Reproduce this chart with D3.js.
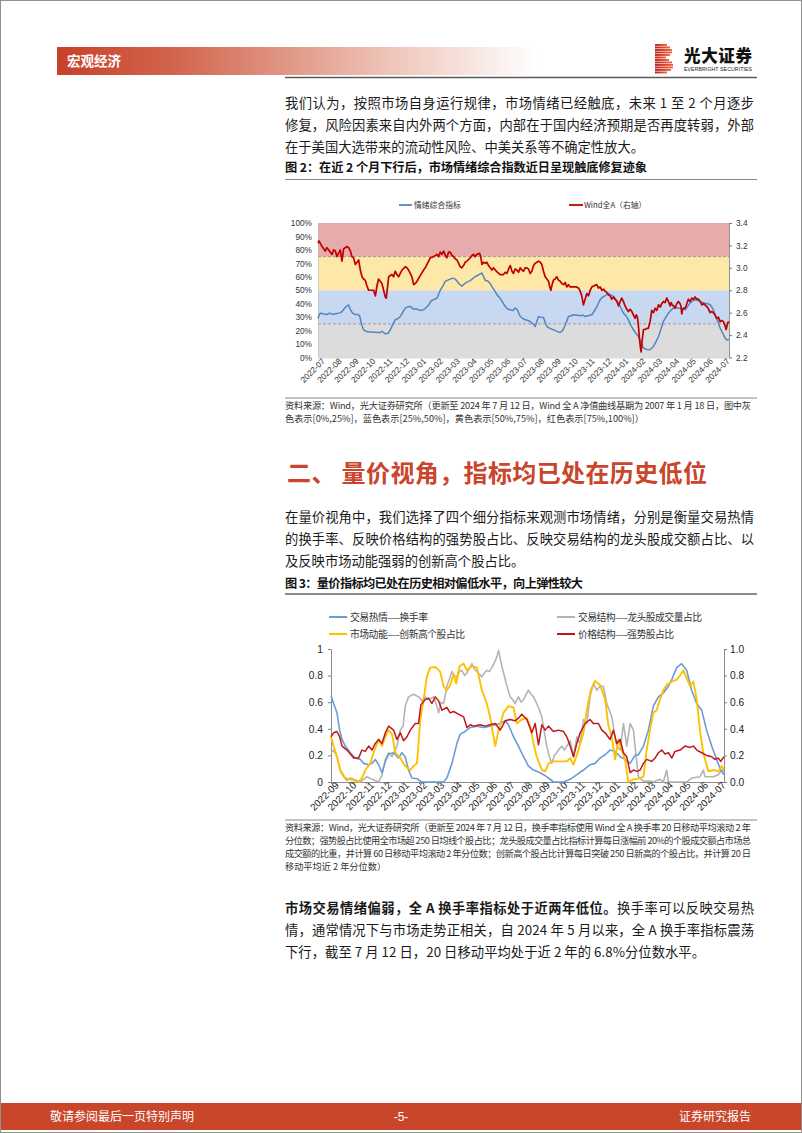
<!DOCTYPE html>
<html><head><meta charset="utf-8">
<script src="https://cdn.jsdelivr.net/npm/d3@7"></script>
<style>
body{margin:0;background:#fff;}
svg{display:block;}
</style>
</head><body>
<svg id="page" width="802" height="1133"></svg>
<script>
// ---------------- DATA ----------------
const chart1Months = ["2022-07","2022-08","2022-09","2022-10","2022-11","2022-12","2023-01","2023-02","2023-03","2023-04","2023-05","2023-06","2023-07","2023-08","2023-09","2023-10","2023-11","2023-12","2024-01","2024-02","2024-03","2024-04","2024-05","2024-06","2024-07"];
const chart1LeftTicks = [0,10,20,30,40,50,60,70,80,90,100];
const chart1RightTicks = [2.2,2.4,2.6,2.8,3.0,3.2,3.4];
const bandEdges = [0,25,50,75,100];
const dashedLevels = [25,75];
// [month index since 2022-07, value %]
const sentimentIndex = [[0,29],[0.05,31],[0.14,33],[0.3,32.5],[0.53,32],[0.7,33],[0.85,32],[1.03,32.5],[1.25,33],[1.42,34],[1.6,37],[1.72,38.5],[1.82,39],[1.92,35.5],[2.05,33],[2.21,32],[2.35,32],[2.47,31],[2.6,24],[2.71,20.5],[2.85,19.5],[3.0,19],[3.25,19],[3.5,18.6],[3.69,18.6],[3.8,19.5],[3.99,17.6],[4.15,18],[4.29,20.6],[4.45,25],[4.58,28],[4.75,29],[4.88,30.5],[5.0,33],[5.17,36.7],[5.3,37.5],[5.47,38],[5.65,36],[5.87,36],[6.05,35],[6.26,35.5],[6.4,37],[6.56,39],[6.7,42],[6.85,43],[7.05,44],[7.25,50],[7.4,53],[7.54,56.6],[7.7,57.5],[7.84,58.3],[8.0,59],[8.14,58.3],[8.35,55],[8.53,53],[8.7,55],[8.83,56],[9.0,57],[9.12,58],[9.3,60],[9.42,60.8],[9.6,62],[9.72,62.8],[9.82,60],[9.92,57.3],[10.05,57],[10.21,55],[10.35,52],[10.51,49],[10.65,46],[10.8,44],[10.95,41],[11.1,38],[11.25,36],[11.4,35.5],[11.55,35],[11.69,36.7],[11.8,36],[11.99,30.5],[12.15,29],[12.29,28],[12.45,27.5],[12.58,26.8],[12.75,25],[12.88,23],[12.98,27],[13.08,30.5],[13.2,30],[13.37,29.8],[13.47,26],[13.57,23],[13.7,22],[13.87,21],[14.0,20.5],[14.16,19.4],[14.36,18.6],[14.5,20],[14.66,24],[14.85,30.5],[15.0,31],[15.15,31.8],[15.35,31.5],[15.54,31],[15.7,31.5],[15.84,30.5],[16.0,31],[16.24,31.8],[16.43,35.5],[16.58,39],[16.73,43],[16.88,45],[17.03,46],[17.22,47.4],[17.35,46.5],[17.52,45.4],[17.67,43],[17.82,40.4],[17.95,37],[18.11,33],[18.26,31],[18.41,28],[18.55,24],[18.7,20.6],[18.85,18],[19.0,15.6],[19.15,11],[19.3,7],[19.5,6],[19.69,5.7],[19.89,8.2],[20.05,12],[20.19,15.6],[20.33,21],[20.48,26.8],[20.63,30],[20.78,33],[20.92,35],[21.07,36.7],[21.27,37],[21.47,36.7],[21.62,36],[21.77,35.5],[21.92,38],[22.06,40.4],[22.2,42],[22.36,43],[22.5,42.5],[22.65,41.7],[22.8,41],[22.95,40.4],[23.1,40],[23.25,39.2],[23.35,37.5],[23.44,35.5],[23.6,30],[23.74,25.6],[23.84,22],[23.94,19.4],[24.04,17],[24.14,14.4],[24.25,13],[24.37,13.5]];
const windAllA = [[0,3.22],[0.06,3.24],[0.24,3.19],[0.43,3.15],[0.53,3.18],[0.63,3.16],[0.83,3.12],[0.93,3.16],[1.03,3.15],[1.12,3.1],[1.22,3.13],[1.32,3.16],[1.42,3.06],[1.52,3.17],[1.72,3.19],[1.82,3.18],[1.92,3.15],[2.01,3.1],[2.11,3.09],[2.21,3.03],[2.31,3.05],[2.41,3.07],[2.51,2.98],[2.61,2.92],[2.7,2.9],[2.8,2.89],[2.9,2.84],[3.0,2.8],[3.15,2.8],[3.3,2.8],[3.4,2.75],[3.5,2.84],[3.59,2.9],[3.69,2.88],[3.79,2.86],[3.89,2.8],[3.99,2.74],[4.05,2.73],[4.19,2.92],[4.38,2.94],[4.48,2.92],[4.58,2.97],[4.68,2.94],[4.78,2.92],[4.88,2.95],[4.98,2.98],[5.17,3.01],[5.27,3.0],[5.37,2.98],[5.47,2.95],[5.57,2.92],[5.67,2.85],[5.77,2.86],[5.87,2.88],[6.06,2.93],[6.26,2.98],[6.36,3.0],[6.46,3.03],[6.56,3.06],[6.66,3.09],[6.85,3.1],[7.05,3.12],[7.15,3.1],[7.25,3.14],[7.35,3.12],[7.45,3.15],[7.55,3.11],[7.64,3.09],[7.74,3.14],[7.84,3.14],[7.94,3.11],[8.04,3.1],[8.14,3.08],[8.24,3.07],[8.34,3.04],[8.43,3.01],[8.53,3.0],[8.63,3.02],[8.73,3.05],[8.83,3.06],[9.03,3.09],[9.13,3.11],[9.22,3.12],[9.32,3.1],[9.42,3.12],[9.58,3.13],[9.65,3.1],[9.72,3.03],[9.82,3.05],[9.92,3.04],[10.01,3.05],[10.11,3.02],[10.21,3.0],[10.31,2.98],[10.41,3.0],[10.51,2.98],[10.65,2.96],[10.8,2.94],[11.0,2.94],[11.1,2.96],[11.2,2.95],[11.3,2.99],[11.4,3.02],[11.5,2.97],[11.59,2.95],[11.69,2.99],[11.79,2.98],[11.89,2.96],[11.99,3.0],[12.09,2.98],[12.19,2.97],[12.28,3.0],[12.38,3.0],[12.48,2.99],[12.58,2.95],[12.68,2.97],[12.78,3.02],[12.88,3.04],[12.98,3.05],[13.08,3.06],[13.18,3.05],[13.27,3.03],[13.37,2.97],[13.47,2.92],[13.57,2.9],[13.67,2.88],[13.74,2.83],[13.81,2.8],[13.88,2.85],[13.96,2.89],[14.06,2.9],[14.16,2.92],[14.26,2.89],[14.36,2.88],[14.46,2.86],[14.56,2.85],[14.66,2.87],[14.75,2.83],[14.85,2.85],[14.95,2.83],[15.15,2.83],[15.3,2.83],[15.45,2.82],[15.55,2.79],[15.64,2.75],[15.7,2.7],[15.74,2.67],[15.84,2.72],[15.94,2.77],[16.04,2.75],[16.14,2.8],[16.24,2.83],[16.38,2.84],[16.53,2.85],[16.63,2.82],[16.73,2.83],[16.83,2.8],[16.93,2.81],[17.03,2.79],[17.13,2.78],[17.22,2.76],[17.32,2.75],[17.42,2.72],[17.52,2.74],[17.62,2.72],[17.72,2.7],[17.82,2.66],[17.92,2.7],[18.01,2.73],[18.11,2.7],[18.21,2.66],[18.31,2.63],[18.41,2.61],[18.51,2.63],[18.61,2.61],[18.7,2.58],[18.8,2.55],[18.87,2.58],[18.94,2.56],[19.0,2.48],[19.06,2.37],[19.11,2.3],[19.16,2.25],[19.22,2.35],[19.3,2.45],[19.4,2.45],[19.49,2.46],[19.59,2.46],[19.69,2.52],[19.74,2.57],[19.79,2.62],[19.89,2.6],[19.99,2.64],[20.09,2.62],[20.19,2.67],[20.29,2.65],[20.38,2.68],[20.48,2.7],[20.58,2.69],[20.68,2.73],[20.78,2.7],[20.88,2.66],[20.94,2.69],[21.0,2.67],[21.09,2.66],[21.17,2.64],[21.27,2.68],[21.37,2.7],[21.47,2.68],[21.52,2.66],[21.57,2.59],[21.62,2.63],[21.67,2.64],[21.77,2.64],[21.87,2.68],[21.96,2.72],[22.06,2.7],[22.16,2.73],[22.26,2.72],[22.36,2.74],[22.46,2.72],[22.56,2.72],[22.66,2.7],[22.76,2.67],[22.86,2.68],[23.01,2.66],[23.13,2.64],[23.25,2.6],[23.35,2.61],[23.44,2.6],[23.54,2.58],[23.64,2.55],[23.74,2.56],[23.84,2.52],[23.94,2.53],[24.04,2.52],[24.12,2.49],[24.2,2.45],[24.29,2.51],[24.37,2.52]];

const chart2Months = ["2022-09","2022-10","2022-11","2022-12","2023-01","2023-02","2023-03","2023-04","2023-05","2023-06","2023-07","2023-08","2023-09","2023-10","2023-11","2023-12","2024-01","2024-02","2024-03","2024-04","2024-05","2024-06","2024-07"];
const chart2LeftTicks = ["0","0.2","0.4","0.6","0.8","1"];
const chart2RightTicks = ["0.0","0.2","0.4","0.6","0.8","1.0"];
// [month index since 2022-09, value]
const turnover = [[0,0.65],[0.15,0.59],[0.34,0.52],[0.49,0.39],[0.63,0.32],[0.81,0.27],[1.1,0.22],[1.38,0.18],[1.67,0.17],[1.86,0.14],[2.14,0.13],[2.33,0.14],[2.52,0.17],[2.71,0.13],[2.9,0.07],[3.09,0.155],[3.28,0.21],[3.56,0.22],[3.84,0.18],[4.03,0.22],[4.22,0.19],[4.41,0.09],[4.6,0.03],[4.89,0.025],[5.17,0],[6.4,0],[6.59,0.03],[6.88,0.14],[7.16,0.29],[7.35,0.36],[7.63,0.38],[7.92,0.41],[8.3,0.42],[8.67,0.41],[9.05,0.42],[9.34,0.43],[9.62,0.44],[9.91,0.46],[10.09,0.43],[10.38,0.34],[10.66,0.27],[10.95,0.19],[11.23,0.12],[11.52,0.09],[11.89,0.07],[12.27,0.04],[12.65,0],[13.22,0],[13.6,0.02],[13.98,0.055],[14.36,0.09],[14.73,0.13],[15.02,0.14],[15.3,0.18],[15.59,0.205],[15.87,0.24],[16.16,0.23],[16.44,0.19],[16.72,0.17],[17.01,0.14],[17.29,0.2],[17.48,0.205],[17.77,0.27],[18.05,0.39],[18.33,0.57],[18.62,0.64],[18.9,0.67],[19.19,0.72],[19.38,0.77],[19.66,0.86],[19.94,0.89],[20.23,0.84],[20.51,0.69],[20.8,0.59],[21.08,0.54],[21.36,0.39],[21.65,0.27],[21.93,0.17],[22.16,0.09],[22.35,0.055]];
const leaderShare = [[0,0.22],[0.15,0.24],[0.34,0.19],[0.53,0.08],[0.72,0.04],[0.91,0.01],[1.1,0.03],[1.29,0.02],[1.67,0],[2.05,0.04],[2.33,0.02],[2.71,0],[2.9,0.05],[3.09,0.17],[3.28,0.22],[3.47,0.19],[3.75,0.27],[3.94,0.39],[4.1,0.42],[4.22,0.57],[4.41,0.64],[4.7,0.66],[4.98,0.64],[5.17,0.61],[5.36,0.64],[5.55,0.62],[5.83,0.64],[6.0,0.58],[6.12,0.52],[6.25,0.6],[6.4,0.59],[6.59,0.72],[6.75,0.78],[6.88,0.83],[7.02,0.8],[7.16,0.79],[7.3,0.83],[7.44,0.84],[7.6,0.8],[7.73,0.82],[8.01,0.89],[8.15,0.85],[8.3,0.83],[8.45,0.81],[8.58,0.79],[8.72,0.82],[8.86,0.84],[9.0,0.83],[9.15,0.86],[9.34,0.91],[9.45,0.95],[9.53,0.99],[9.62,0.93],[9.72,0.87],[9.91,0.77],[10.05,0.7],[10.19,0.64],[10.33,0.62],[10.47,0.59],[10.66,0.64],[10.8,0.6],[10.95,0.62],[11.1,0.66],[11.23,0.69],[11.38,0.66],[11.52,0.64],[11.66,0.6],[11.8,0.56],[11.99,0.49],[12.1,0.4],[12.27,0.27],[12.4,0.2],[12.56,0.14],[12.7,0.2],[12.84,0.22],[12.98,0.25],[13.13,0.27],[13.27,0.24],[13.41,0.27],[13.6,0.31],[13.79,0.19],[13.98,0.34],[14.17,0.29],[14.36,0.47],[14.55,0.44],[14.73,0.64],[14.92,0.74],[15.11,0.69],[15.3,0.72],[15.49,0.72],[15.68,0.59],[15.97,0.49],[16.1,0.38],[16.25,0.27],[16.44,0.24],[16.63,0.44],[16.82,0.27],[17.01,0.44],[17.2,0.39],[17.29,0.27],[17.48,0.04],[17.77,0.005],[18.05,0.01],[18.33,0],[18.71,0.02],[18.9,0],[19.09,0.09],[19.19,0],[20.23,0],[20.51,0.03],[20.98,0.04],[21.17,0.09],[21.27,0.04],[21.74,0.04],[22.03,0.055],[22.22,0.09],[22.35,0.08]];
const newHighShare = [[0,0.34],[0.15,0.27],[0.34,0.19],[0.53,0.09],[0.81,0.03],[1.1,0.02],[1.38,0.01],[1.57,0],[1.76,0.03],[1.95,0.09],[2.23,0.14],[2.42,0.22],[2.71,0.32],[2.9,0.27],[3.09,0.34],[3.28,0.39],[3.47,0.36],[3.66,0.22],[3.94,0.18],[4.22,0.12],[4.51,0.09],[4.7,0.12],[4.89,0.14],[5.08,0.47],[5.27,0.62],[5.45,0.79],[5.64,0.86],[5.93,0.865],[6.21,0.83],[6.4,0.72],[6.59,0.69],[6.78,0.73],[6.97,0.81],[7.12,0.74],[7.31,0.87],[7.54,0.89],[7.73,0.84],[8.01,0.87],[8.3,0.86],[8.58,0.69],[8.86,0.59],[9.05,0.49],[9.24,0.34],[9.34,0.27],[9.53,0.39],[9.81,0.52],[10.09,0.57],[10.38,0.56],[10.57,0.44],[10.85,0.47],[11.14,0.48],[11.33,0.42],[11.52,0.29],[11.7,0.19],[11.99,0.09],[12.18,0.08],[12.37,0.14],[12.65,0.155],[13.03,0.155],[13.41,0.155],[13.6,0.18],[13.79,0.13],[14.07,0.24],[14.36,0.37],[14.55,0.54],[14.77,0.69],[15.02,0.76],[15.3,0.73],[15.59,0.62],[15.78,0.42],[15.97,0.34],[16.16,0.17],[16.34,0.32],[16.53,0.24],[16.72,0.17],[16.91,0],[17.2,0.02],[17.48,0.025],[17.77,0.04],[17.95,0.24],[18.14,0.39],[18.33,0.52],[18.52,0.54],[18.71,0.62],[18.9,0.69],[19.09,0.73],[19.38,0.755],[19.66,0.77],[19.85,0.8],[20.04,0.84],[20.23,0.78],[20.42,0.72],[20.61,0.755],[20.8,0.62],[20.98,0.39],[21.17,0.22],[21.46,0.08],[21.74,0.09],[22.03,0.08],[22.22,0.12],[22.35,0.09]];
const strongShare = [[0,0.34],[0.15,0.37],[0.34,0.38],[0.49,0.34],[0.63,0.27],[0.91,0.24],[1.1,0.21],[1.29,0.18],[1.57,0.18],[1.76,0.24],[1.95,0.23],[2.14,0.27],[2.33,0.24],[2.52,0.29],[2.71,0.32],[2.9,0.29],[3.09,0.37],[3.28,0.42],[3.56,0.39],[3.75,0.32],[3.94,0.37],[4.13,0.31],[4.32,0.34],[4.51,0.39],[4.79,0.44],[4.98,0.44],[5.11,0.58],[5.36,0.62],[5.55,0.63],[5.74,0.59],[5.93,0.64],[6.12,0.61],[6.31,0.54],[6.59,0.56],[6.78,0.52],[6.97,0.53],[7.25,0.51],[7.54,0.49],[7.73,0.41],[7.92,0.43],[8.11,0.42],[8.48,0.43],[8.77,0.42],[9.05,0.43],[9.34,0.44],[9.62,0.39],[9.91,0.46],[10.19,0.47],[10.47,0.46],[10.66,0.48],[10.85,0.51],[11.14,0.47],[11.42,0.37],[11.61,0.44],[11.8,0.28],[11.99,0.43],[12.18,0.39],[12.37,0.42],[12.65,0.38],[12.94,0.39],[13.22,0.38],[13.41,0.34],[13.6,0.27],[13.79,0.19],[13.98,0.29],[14.17,0.37],[14.45,0.44],[14.73,0.47],[14.92,0.44],[15.21,0.44],[15.4,0.39],[15.59,0.37],[15.87,0.32],[16.06,0.39],[16.25,0.29],[16.44,0.32],[16.63,0.22],[16.82,0.19],[17.01,0.07],[17.2,0.09],[17.39,0.08],[17.58,0.09],[17.77,0.14],[17.95,0.17],[18.24,0.155],[18.43,0.18],[18.62,0.22],[18.81,0.24],[19.0,0.21],[19.19,0.22],[19.38,0.18],[19.56,0.23],[19.85,0.24],[20.13,0.27],[20.42,0.26],[20.61,0.27],[20.8,0.24],[21.08,0.22],[21.36,0.2],[21.65,0.19],[21.84,0.17],[22.03,0.18],[22.16,0.155],[22.35,0.19]];

// ---------------- DRAWING ----------------
const CJK = '"Noto Sans CJK SC","Noto Sans",sans-serif';
const NUM = '"Liberation Sans",Arial,sans-serif';
const svg = d3.select("#page");
const defs = svg.append("defs");

function addText(x, y, str, o = {}) {
  const t = svg.append("text").attr("x", x).attr("y", y)
    .attr("font-family", o.family || CJK)
    .attr("font-size", o.size || 13.3)
    .attr("font-weight", o.weight || 400)
    .attr("fill", o.fill || "#1a1a1a")
    .attr("text-anchor", o.anchor || "start")
    .text(str);
  if (o.len) t.attr("textLength", o.len).attr("lengthAdjust", "spacing");
  return t;
}

// page frame
svg.append("rect").attr("x",0.5).attr("y",0.5).attr("width",801).attr("height",1132)
  .attr("fill","#fff").attr("stroke","#8f8f8f");

// header
const hg = defs.append("linearGradient").attr("id","hdr").attr("x1","0").attr("x2","1");
hg.append("stop").attr("offset","0").attr("stop-color","#c8402a");
hg.append("stop").attr("offset","0.25").attr("stop-color","#d2664f");
hg.append("stop").attr("offset","0.7").attr("stop-color","#efc6bb");
hg.append("stop").attr("offset","1").attr("stop-color","#ffffff");
svg.append("rect").attr("x",57).attr("y",47).attr("width",480).attr("height",28).attr("fill","url(#hdr)");
addText(67, 66, "宏观经济", {size:13.5, weight:700, fill:"#fff"});
svg.append("line").attr("x1",285).attr("x2",757).attr("y1",77.5).attr("y2",77.5).attr("stroke","#5a5a5a").attr("stroke-width",1.6);

// logo
const lg = defs.append("linearGradient").attr("id","logo").attr("x1","0").attr("x2","1");
lg.append("stop").attr("offset","0").attr("stop-color","#b8201c");
lg.append("stop").attr("offset","1").attr("stop-color","#f0683f");
const logoW = [12,15,17,17,15,11,14,17,18,18,16,12];
logoW.forEach((w,i) => {
  svg.append("rect").attr("x",655).attr("y",44 + i*2.5).attr("width",w).attr("height",1.9).attr("fill","url(#logo)");
});
addText(684, 62, "光大证券", {size:16.5, weight:900, fill:"#111", len:68});
addText(684, 70.5, "EVERBRIGHT SECURITIES", {size:5.2, family:NUM, fill:"#222", len:68});

// paragraph 1
const P = {size:13.3, fill:"#1a1a1a"};
const JW = 469;
addText(285, 108, "我们认为，按照市场自身运行规律，市场情绪已经触底，未来 1 至 2 个月逐步", {...P, len:JW});
addText(285, 130, "修复，风险因素来自内外两个方面，内部在于国内经济预期是否再度转弱，外部", {...P, len:JW});
addText(285, 152, "在于美国大选带来的流动性风险、中美关系等不确定性放大。", P);

// caption 2
addText(285, 172, "图 2：在近 2 个月下行后，市场情绪综合指数近日呈现触底修复迹象", {size:12.2, weight:700, fill:"#111", len:362});
svg.append("line").attr("x1",285).attr("x2",757).attr("y1",179.5).attr("y2",179.5).attr("stroke","#888").attr("stroke-width",1.2);

// ---------- chart 1 ----------
const c1 = {l:318, r:729, t:223, b:357.5};
const x1 = d3.scaleLinear().domain([0, 24.37]).range([c1.l, c1.r]);
const yL = d3.scaleLinear().domain([0,100]).range([c1.b, c1.t]);
const yR = d3.scaleLinear().domain([2.2,3.4]).range([c1.b, c1.t]);
const bandColors = ["#dcdcdc","#c7d8f0","#fde8a8","#e8abab"];
const g1 = svg.append("g");
d3.pairs(bandEdges).forEach(([a,b],i) => {
  g1.append("rect").attr("x",c1.l).attr("width",c1.r-c1.l)
    .attr("y",yL(b)).attr("height",yL(a)-yL(b)).attr("fill",bandColors[i]);
});
dashedLevels.forEach(v => {
  g1.append("line").attr("x1",c1.l).attr("x2",c1.r).attr("y1",yL(v)).attr("y2",yL(v))
    .attr("stroke","#8a8a8a").attr("stroke-width",0.8).attr("stroke-dasharray","3,2");
});
const axL1 = g1.append("g").attr("transform",`translate(${c1.l},0)`)
  .call(d3.axisLeft(yL).tickValues(chart1LeftTicks).tickFormat(d=>d+"%").tickSize(0).tickPadding(6));
axL1.select(".domain").attr("stroke","#bbb").attr("stroke-width",0.6);
const axR1 = g1.append("g").attr("transform",`translate(${c1.r},0)`)
  .call(d3.axisRight(yR).tickValues(chart1RightTicks).tickFormat(d3.format(".1f")).tickSize(3).tickSizeOuter(0).tickPadding(4));
axR1.select(".domain").attr("stroke","#777").attr("stroke-width",0.8);
axR1.selectAll(".tick line").attr("stroke","#777");
const axB1 = g1.append("g").attr("transform",`translate(0,${c1.b})`)
  .call(d3.axisBottom(x1).tickValues(d3.range(chart1Months.length)).tickFormat(i=>chart1Months[i]).tickSize(0).tickSizeOuter(0));
axB1.select(".domain").attr("stroke","#bbb").attr("stroke-width",0.6);
axB1.selectAll("text").attr("x",2).attr("y",5).attr("dy","0.35em")
  .attr("transform","rotate(-45)").attr("text-anchor","end");
[axL1,axR1,axB1].forEach(a => a.selectAll("text").attr("font-family",NUM).attr("font-size",8.3).attr("fill","#333"));
g1.append("path").datum(sentimentIndex).attr("fill","none").attr("stroke","#5585c0").attr("stroke-width",1.5)
  .attr("stroke-linejoin","round").attr("d", d3.line().x(d=>x1(d[0])).y(d=>yL(d[1])));
g1.append("path").datum(windAllA).attr("fill","none").attr("stroke","#c00000").attr("stroke-width",1.7)
  .attr("stroke-linejoin","round").attr("d", d3.line().x(d=>x1(d[0])).y(d=>yR(d[1])));
g1.append("line").attr("x1",399).attr("x2",412).attr("y1",205).attr("y2",205).attr("stroke","#5585c0").attr("stroke-width",1.8);
addText(414, 208, "情绪综合指标", {size:7.8, fill:"#333"});
g1.append("line").attr("x1",569).attr("x2",583).attr("y1",205).attr("y2",205).attr("stroke","#c00000").attr("stroke-width",1.8);
addText(584, 208, "Wind全A（右轴）", {size:7.8, fill:"#333"});

// source 1
svg.append("line").attr("x1",285).attr("x2",757).attr("y1",398).attr("y2",398).attr("stroke","#888").attr("stroke-width",1.2);
const S = {size:9.2, fill:"#333"};
addText(285, 409, "资料来源：Wind，光大证券研究所（更新至 2024 年 7 月 12 日，Wind 全 A 净值曲线基期为 2007 年 1 月 18 日，图中灰", {...S, len:466});
addText(285, 422, "色表示[0%,25%]，蓝色表示[25%,50%]，黄色表示[50%,75%]，红色表示[75%,100%]）", S);

// heading
addText(287, 482, "二、 量价视角，指标均已处在历史低位", {size:24, weight:700, fill:"#c9452b", len:420});

// paragraph 2
addText(285, 522, "在量价视角中，我们选择了四个细分指标来观测市场情绪，分别是衡量交易热情", {...P, len:JW});
addText(285, 544, "的换手率、反映价格结构的强势股占比、反映交易结构的龙头股成交额占比、以", {...P, len:JW});
addText(285, 566, "及反映市场动能强弱的创新高个股占比。", P);

// caption 3
addText(285, 588, "图 3：量价指标均已处在历史相对偏低水平，向上弹性较大", {size:12.2, weight:700, fill:"#111", len:298});
svg.append("line").attr("x1",285).attr("x2",757).attr("y1",594).attr("y2",594).attr("stroke","#666").attr("stroke-width",1.4);

// ---------- chart 2 ----------
const c2 = {l:331, r:724, t:649, b:782};
const x2 = d3.scaleLinear().domain([0, 22.35]).range([c2.l, c2.r]);
const y2 = d3.scaleLinear().domain([0,1]).range([c2.b, c2.t]);
const g2 = svg.append("g");
const tickVals2 = [0,0.2,0.4,0.6,0.8,1];
const axL2 = g2.append("g").attr("transform",`translate(${c2.l},0)`)
  .call(d3.axisLeft(y2).tickValues(tickVals2).tickFormat((d,i)=>chart2LeftTicks[i]).tickSize(3).tickSizeOuter(0).tickPadding(5));
const axR2 = g2.append("g").attr("transform",`translate(${c2.r},0)`)
  .call(d3.axisRight(y2).tickValues(tickVals2).tickFormat((d,i)=>chart2RightTicks[i]).tickSize(3).tickSizeOuter(0).tickPadding(3));
const axB2 = g2.append("g").attr("transform",`translate(0,${c2.b})`)
  .call(d3.axisBottom(x2).tickValues(d3.range(chart2Months.length)).tickFormat(i=>chart2Months[i]).tickSize(2).tickSizeOuter(0));
axB2.selectAll("text").attr("x",3).attr("y",5).attr("dy","0.35em")
  .attr("transform","rotate(-45)").attr("text-anchor","end");
[axL2,axR2,axB2].forEach(a => {
  a.select(".domain").attr("stroke","#7f7f7f").attr("stroke-width",0.9);
  a.selectAll(".tick line").attr("stroke","#7f7f7f");
  a.selectAll("text").attr("font-family",NUM).attr("font-size",10.2).attr("fill","#222");
});
axB2.selectAll("text").attr("font-size",9.8);
const line2 = d3.line().x(d=>x2(d[0])).y(d=>y2(d[1]));
const series2 = [
  {data:leaderShare, color:"#b4b4b4", w:1.6},
  {data:turnover, color:"#6a9bd8", w:1.6},
  {data:newHighShare, color:"#ffc000", w:1.9},
  {data:strongShare, color:"#c0161c", w:1.5}
];
series2.forEach(s => {
  g2.append("path").datum(s.data).attr("fill","none").attr("stroke",s.color).attr("stroke-width",s.w)
    .attr("stroke-linejoin","round").attr("d", line2);
});
const legendItems = [
  {x:329, y:617, color:"#6a9bd8", pre:"交易热情", post:"换手率", w:78},
  {x:557, y:617, color:"#b4b4b4", pre:"交易结构", post:"龙头股成交量占比", w:124},
  {x:329, y:634, color:"#ffc000", pre:"市场动能", post:"创新高个股占比", w:115},
  {x:557, y:634, color:"#c0161c", pre:"价格结构", post:"强势股占比", w:96}
];
legendItems.forEach(it => {
  g2.append("line").attr("x1",it.x).attr("x2",it.x+18).attr("y1",it.y).attr("y2",it.y).attr("stroke",it.color).attr("stroke-width",2);
  const t = svg.append("text").attr("x",it.x+21).attr("y",it.y+3.8).attr("font-family",CJK)
    .attr("font-size",9.8).attr("fill","#333").attr("textLength",it.w).attr("lengthAdjust","spacing");
  t.append("tspan").text(it.pre);
  t.append("tspan").attr("font-family",NUM).text("\u2014-");
  t.append("tspan").text(it.post);
});

// source 2
svg.append("line").attr("x1",285).attr("x2",757).attr("y1",820).attr("y2",820).attr("stroke","#888").attr("stroke-width",1.2);
addText(285, 831, "资料来源：Wind，光大证券研究所（更新至 2024 年 7 月 12 日，换手率指标使用 Wind 全 A 换手率 20 日移动平均滚动 2 年", {...S, len:466});
addText(285, 844, "分位数；强势股占比使用全市场超 250 日均线个股占比；龙头股成交量占比指标计算每日涨幅前 20%的个股成交额占市场总", {...S, len:466});
addText(285, 857, "成交额的比重，并计算 60 日移动平均滚动 2 年分位数；创新高个股占比计算每日突破 250 日新高的个股占比，并计算 20 日", {...S, len:466});
addText(285, 870, "移动平均近 2 年分位数）", S);

// paragraph 3
const p3 = svg.append("text").attr("x",285).attr("y",913).attr("font-family",CJK).attr("font-size",13.3).attr("fill","#1a1a1a")
  .attr("textLength",JW).attr("lengthAdjust","spacing");
p3.append("tspan").attr("font-weight",700).text("市场交易情绪偏弱，全 A 换手率指标处于近两年低位。");
p3.append("tspan").text("换手率可以反映交易热");
addText(285, 935, "情，通常情况下与市场走势正相关，自 2024 年 5 月以来，全 A 换手率指标震荡", {...P, len:JW});
addText(285, 957, "下行，截至 7 月 12 日，20 日移动平均处于近 2 年的 6.8%分位数水平。", {...P, len:420});

// footer
svg.append("rect").attr("x",1).attr("y",1103).attr("width",800).attr("height",27).attr("fill","#c9462b");
addText(50, 1121, "敬请参阅最后一页特别声明", {size:12, fill:"#fff"});
addText(401, 1121, "-5-", {size:12, fill:"#fff", anchor:"middle", family:NUM});
addText(751, 1121, "证券研究报告", {size:12, fill:"#fff", anchor:"end"});
</script>
</body></html>
